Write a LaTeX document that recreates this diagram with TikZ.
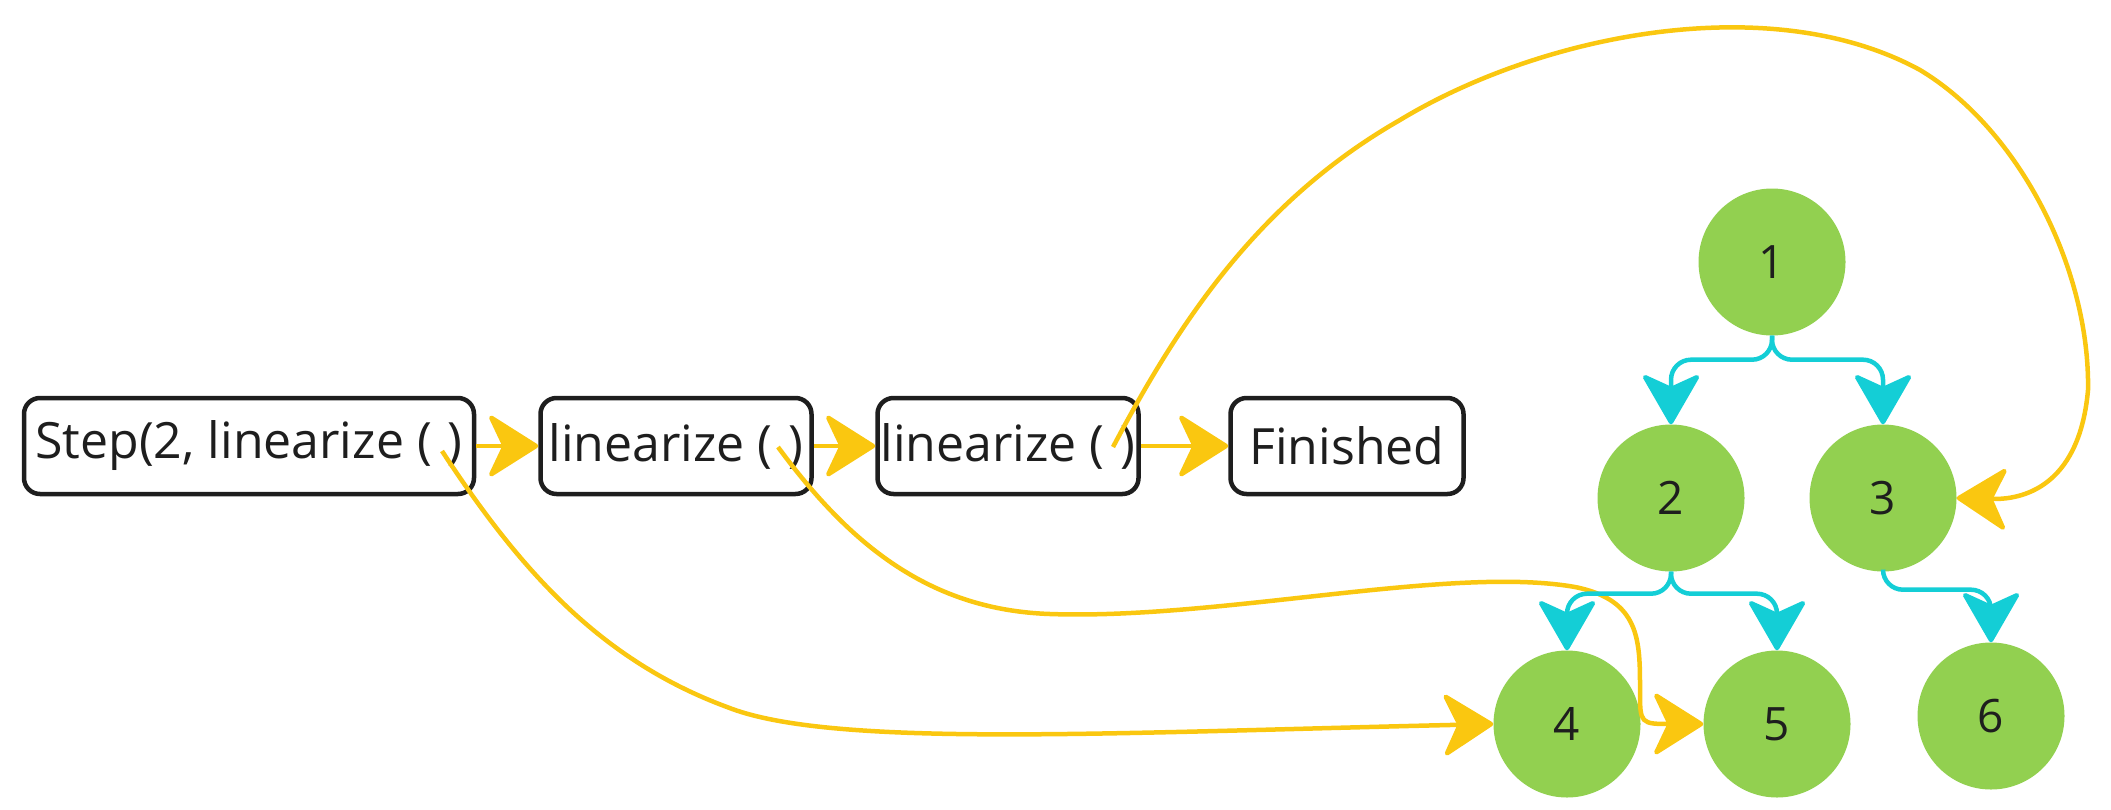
\documentclass[tikz,border=0pt]{standalone}
\usepackage{fontspec}
\setmainfont{Open Sans}
\usetikzlibrary{arrows.meta}
\definecolor{myyellow}{HTML}{FAC710}
\definecolor{mycyan}{HTML}{14CED6}
\definecolor{mygreen}{HTML}{92D050}
\definecolor{myink}{HTML}{1E1E1E}
\tikzset{
  box/.style={draw=myink, line width=4.5pt, rounded corners=16pt, fill=white,
    minimum height=96pt, inner sep=0pt, text=myink,
    font=\fontsize{50}{60}\selectfont},
  ball/.style={circle, fill=mygreen, minimum size=147pt, inner sep=0pt,
    text=myink, font=\fontsize{46}{54}\selectfont},
  yedge/.style={draw=myyellow, line width=4.5pt,
    -{Stealth[length=54pt,width=68pt,inset=16pt,round,fill=myyellow]}},
  cedge/.style={draw=mycyan, line width=4.5pt, rounded corners=20pt,
    -{Stealth[length=54pt,width=62pt,inset=14pt,round,fill=mycyan]}},
}
\begin{document}
\begin{tikzpicture}[x=1pt,y=-1pt]
\useasboundingbox (0,0) rectangle (2111,809);
\node[box, minimum width=450pt] (b1) at (249,446) {Step(2, linearize (\kern3pt\ )};
\node[box, minimum width=271pt] (b2) at (676,446) {linearize (\kern3pt\ )};
\node[box, minimum width=261pt] (b3) at (1008,446) {linearize (\kern3pt\ )};
\node[box, minimum width=233pt] (b4) at (1347,446) {Finished};

\node[ball] (n1) at (1772,262) {1};
\node[ball] (n2) at (1671,498) {2};
\node[ball] (n3) at (1883,498) {3};
\node[ball] (n4) at (1567,724) {4};
\node[ball] (n5) at (1777,724) {5};
\node[ball] (n6) at (1991,716) {6};

\coordinate (s1) at (442,451);
\coordinate (s2) at (778,447);
\coordinate (s3) at (1113,447);

\draw[yedge] (b1.east) -- (b2.west);
\draw[yedge] (b2.east) -- (b3.west);
\draw[yedge] (b3.east) -- (b4.west);

\draw[yedge] (s1) .. controls (520,570) and (600,660) .. (727,707)
  .. controls (830,748) and (1100,733) .. (n4.west);
\draw[yedge] (s2) .. controls (850,545) and (930,610) .. (1050,614)
  .. controls (1220,620) and (1450,565) .. (1575,587)
  .. controls (1640,600) and (1640,640) .. (1640,690)
  .. controls (1640,724) .. (1672,724) -- (n5.west);
\draw[yedge] (s3) .. controls (1180,320) and (1260,200) .. (1400,120)
  .. controls (1540,35) and (1770,-12) .. (1920,70)
  .. controls (2020,130) and (2090,270) .. (2088,390)
  .. controls (2080,480) and (2030,500) .. (n3.east);

\draw[cedge] (n1.south) -- ++(0,24) -| (n2.north);
\draw[cedge] (n1.south) -- ++(0,24) -| (n3.north);
\draw[cedge] (n2.south) -- ++(0,22) -| (n4.north);
\draw[cedge] (n2.south) -- ++(0,22) -| (n5.north);
\draw[cedge] (n3.south) -- ++(0,18) -| (n6.north);
\end{tikzpicture}
\end{document}
